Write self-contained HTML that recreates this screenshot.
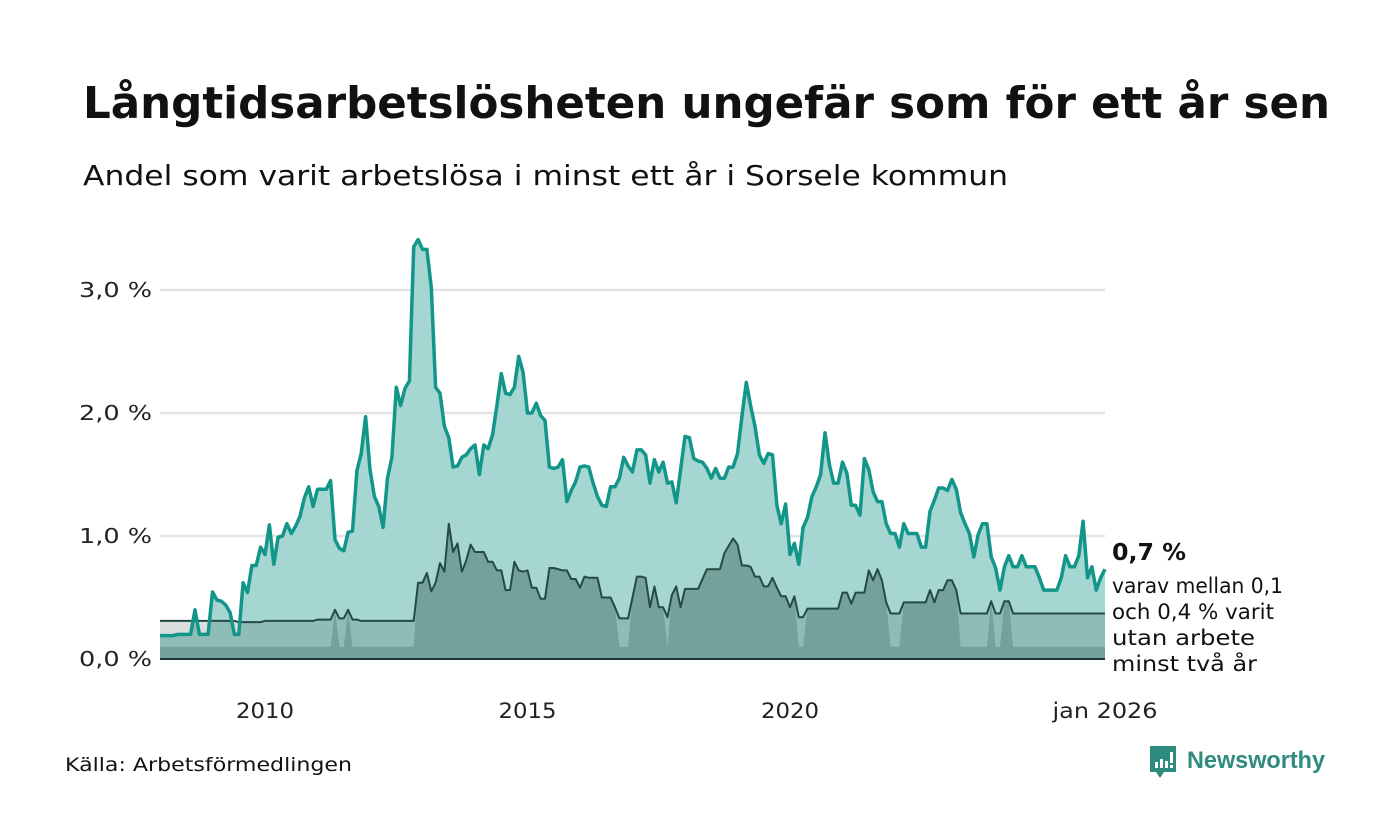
<!DOCTYPE html>
<html><head><meta charset="utf-8">
<style>
html,body{margin:0;padding:0;background:#fff;}
svg{display:block;font-family:"DejaVu Sans","Liberation Sans",sans-serif;}
</style></head>
<body>
<svg id="chart" width="1400" height="840" viewBox="0 0 1400 840">
<text x="83" y="118" font-size="44" font-weight="bold" fill="#111" textLength="1247" lengthAdjust="spacingAndGlyphs">Långtidsarbetslösheten ungefär som för ett år sen</text>
<text x="83" y="185" font-size="28" fill="#111" textLength="925" lengthAdjust="spacingAndGlyphs">Andel som varit arbetslösa i minst ett år i Sorsele kommun</text>
<g id="grid"></g>
<g id="areas"></g>
<g id="yaxis"></g>
<g id="xaxis"></g>
<g>
<text x="1112" y="560" font-size="23" font-weight="bold" fill="#111" textLength="74" lengthAdjust="spacingAndGlyphs">0,7 %</text>
<text font-size="21" fill="#111">
<tspan x="1112" y="593" textLength="171" lengthAdjust="spacingAndGlyphs">varav mellan 0,1</tspan>
<tspan x="1112" y="619" textLength="162" lengthAdjust="spacingAndGlyphs">och 0,4 % varit</tspan>
<tspan x="1112" y="645" textLength="143" lengthAdjust="spacingAndGlyphs">utan arbete</tspan>
<tspan x="1112" y="671" textLength="145" lengthAdjust="spacingAndGlyphs">minst två år</tspan>
</text>
</g>
<text x="65" y="771" font-size="19" fill="#111" textLength="287" lengthAdjust="spacingAndGlyphs">Källa: Arbetsförmedlingen</text>
<g>
<path d="M1150 746 h26 v26 h-12 l-4 6 l-4 -6 h-6 z" fill="#2e8b7e"/>
<rect x="1155" y="762" width="3" height="6" fill="#fff"/>
<rect x="1160" y="759" width="3" height="9" fill="#fff"/>
<rect x="1165" y="761" width="3" height="7" fill="#fff"/>
<rect x="1170" y="752" width="3" height="11" fill="#fff"/>
<rect x="1170" y="765" width="3" height="3" fill="#fff"/>
<text x="1187" y="768" font-size="24" font-weight="bold" fill="#2e8b7e" textLength="138" lengthAdjust="spacingAndGlyphs" font-family="Liberation Sans, sans-serif">Newsworthy</text>
</g>
</svg>
<script>
const startYear = 2008;
const mainValues = [
0.19,0.19,0.19,0.19,0.2,0.2,0.2,0.2,0.40,0.2,
0.2,0.2,0.545,0.48,0.47,0.44,0.38,0.2,0.2,0.62,
0.54,0.76,0.76,0.91,0.85,1.09,0.77,0.99,1.0,1.1,
1.02,1.08,1.16,1.31,1.40,1.24,1.38,1.38,1.38,1.45,
0.97,0.90,0.88,1.03,1.04,1.53,1.67,1.97,1.54,1.32,
1.24,1.07,1.47,1.64,2.21,2.06,2.2,2.26,3.35,3.41,
3.33,3.33,3.02,2.21,2.16,1.89,1.80,1.56,1.57,1.64,
1.66,1.71,1.74,1.50,1.74,1.71,1.82,2.06,2.32,2.16,
2.15,2.21,2.46,2.33,2.0,2.0,2.08,1.98,1.94,1.56,
1.55,1.56,1.62,1.28,1.37,1.44,1.56,1.57,1.56,1.43,
1.32,1.25,1.24,1.40,1.40,1.47,1.64,1.57,1.52,1.70,
1.70,1.66,1.43,1.62,1.52,1.60,1.43,1.44,1.27,1.54,
1.81,1.80,1.63,1.61,1.60,1.55,1.47,1.55,1.47,1.47,
1.56,1.56,1.67,1.97,2.25,2.06,1.89,1.66,1.59,1.67,
1.66,1.25,1.10,1.26,0.85,0.94,0.77,1.07,1.15,1.32,
1.40,1.50,1.84,1.58,1.43,1.43,1.60,1.51,1.25,1.25,
1.17,1.63,1.54,1.36,1.28,1.28,1.10,1.02,1.02,0.91,
1.10,1.02,1.02,1.02,0.91,0.91,1.20,1.29,1.39,1.39,
1.37,1.46,1.38,1.19,1.10,1.02,0.83,1.01,1.10,1.10,
0.83,0.74,0.56,0.75,0.84,0.75,0.75,0.84,0.75,0.75,
0.75,0.66,0.56,0.56,0.56,0.56,0.66,0.84,0.75,0.75,
0.84,1.12,0.66,0.75,0.56,0.66,0.73];
const upperValues = [
0.31,0.31,0.31,0.31,0.31,0.31,0.31,0.31,0.31,0.31,
0.31,0.31,0.31,0.31,0.31,0.31,0.31,0.31,0.30,0.30,
0.30,0.30,0.30,0.30,0.31,0.31,0.31,0.31,0.31,0.31,
0.31,0.31,0.31,0.31,0.31,0.31,0.32,0.32,0.32,0.32,
0.40,0.33,0.33,0.40,0.32,0.32,0.31,0.31,0.31,0.31,
0.31,0.31,0.31,0.31,0.31,0.31,0.31,0.31,0.31,0.62,
0.62,0.70,0.55,0.62,0.78,0.71,1.10,0.87,0.94,0.71,
0.80,0.93,0.87,0.87,0.87,0.79,0.79,0.72,0.72,0.56,
0.56,0.79,0.72,0.71,0.72,0.58,0.58,0.49,0.49,0.74,
0.74,0.73,0.72,0.72,0.65,0.65,0.58,0.67,0.66,0.66,
0.66,0.50,0.50,0.50,0.42,0.33,0.33,0.33,0.50,0.67,
0.67,0.66,0.42,0.59,0.42,0.42,0.34,0.52,0.59,0.42,
0.57,0.57,0.57,0.57,0.65,0.73,0.73,0.73,0.73,0.86,
0.92,0.98,0.93,0.76,0.76,0.75,0.67,0.67,0.59,0.59,
0.66,0.58,0.51,0.51,0.42,0.51,0.34,0.34,0.41,0.41,
0.41,0.41,0.41,0.41,0.41,0.41,0.54,0.54,0.45,0.54,
0.54,0.54,0.72,0.64,0.73,0.64,0.46,0.37,0.37,0.37,
0.46,0.46,0.46,0.46,0.46,0.46,0.56,0.46,0.56,0.56,
0.64,0.64,0.56,0.37,0.37,0.37,0.37,0.37,0.37,0.37,
0.47,0.37,0.37,0.47,0.47,0.37,0.37,0.37,0.37,0.37,
0.37,0.37,0.37,0.37,0.37,0.37,0.37,0.37,0.37,0.37,
0.37,0.37,0.37,0.37,0.37,0.37,0.37];
const lowerValues = [
0.1,0.1,0.1,0.1,0.1,0.1,0.1,0.1,0.1,0.1,
0.1,0.1,0.1,0.1,0.1,0.1,0.1,0.1,0.1,0.1,
0.1,0.1,0.1,0.1,0.1,0.1,0.1,0.1,0.1,0.1,
0.1,0.1,0.1,0.1,0.1,0.1,0.1,0.1,0.1,0.1,
0.40,0.1,0.1,0.40,0.1,0.1,0.1,0.1,0.1,0.1,
0.1,0.1,0.1,0.1,0.1,0.1,0.1,0.1,0.1,0.62,
0.62,0.70,0.55,0.62,0.78,0.71,1.10,0.87,0.94,0.71,
0.80,0.93,0.87,0.87,0.87,0.79,0.79,0.72,0.72,0.56,
0.56,0.79,0.72,0.71,0.72,0.58,0.58,0.49,0.49,0.74,
0.74,0.73,0.72,0.72,0.65,0.65,0.58,0.67,0.66,0.66,
0.66,0.50,0.50,0.50,0.42,0.1,0.1,0.1,0.50,0.67,
0.67,0.66,0.42,0.59,0.42,0.42,0.1,0.52,0.59,0.42,
0.57,0.57,0.57,0.57,0.65,0.73,0.73,0.73,0.73,0.86,
0.92,0.98,0.93,0.76,0.76,0.75,0.67,0.67,0.59,0.59,
0.66,0.58,0.51,0.51,0.42,0.51,0.1,0.1,0.41,0.41,
0.41,0.41,0.41,0.41,0.41,0.41,0.54,0.54,0.45,0.54,
0.54,0.54,0.72,0.64,0.73,0.64,0.46,0.1,0.1,0.1,
0.46,0.46,0.46,0.46,0.46,0.46,0.56,0.46,0.56,0.56,
0.64,0.64,0.56,0.1,0.1,0.1,0.1,0.1,0.1,0.1,
0.47,0.1,0.1,0.47,0.47,0.1,0.1,0.1,0.1,0.1,
0.1,0.1,0.1,0.1,0.1,0.1,0.1,0.1,0.1,0.1,
0.1,0.1,0.1,0.1,0.1,0.1,0.1];
const yTicks = [0, 1, 2, 3];
const yTickLabels = ["0,0 %", "1,0 %", "2,0 %", "3,0 %"];
const xTicks = [2010, 2015, 2020, 2026];
const xTickLabels = ["2010", "2015", "2020", "jan 2026"];

const NS = "http://www.w3.org/2000/svg";
const X0 = 160, X1 = 1105, Y0 = 659, YPER = 123;
function xScale(year){ return X0 + (year - startYear) * (X1 - X0) / 18; }
function xIdx(i){ return xScale(startYear + i / 12); }
function yScale(v){ return Y0 - v * YPER; }
function mk(tag, attrs, parent){ const e = document.createElementNS(NS, tag); for (const k in attrs) e.setAttribute(k, attrs[k]); parent.appendChild(e); return e; }
function linePts(arr){ return arr.map((v,i)=>xIdx(i).toFixed(1)+","+yScale(v).toFixed(1)).join(" "); }
function areaPts(arr){ return xIdx(0)+","+Y0+" "+linePts(arr)+" "+xIdx(arr.length-1)+","+Y0; }

const grid = document.getElementById("grid");
const yaxis = document.getElementById("yaxis");
yTicks.forEach((t,i)=>{
  if (t > 0) {
    const g = mk("line",{x1:X0,x2:X1,y1:yScale(t),y2:yScale(t),stroke:"#e2e2e6","stroke-width":2.5},grid);
    
    
  }
  const lb = mk("text",{x:152,y:yScale(t)+7,"font-size":20,fill:"#222","text-anchor":"end",textLength:73,lengthAdjust:"spacingAndGlyphs"},yaxis);
  lb.textContent = yTickLabels[i];
  
  
});
const xaxis = document.getElementById("xaxis");
xTicks.forEach((t,i)=>{
  const lb = mk("text",{x:xScale(t),y:718,"font-size":21,fill:"#222","text-anchor":"middle",textLength:xTickLabels[i].length>4?105:58,lengthAdjust:"spacingAndGlyphs"},xaxis);
  lb.textContent = xTickLabels[i];
  
  
});

const areas = document.getElementById("areas");
const a1 = mk("polygon",{points:areaPts(mainValues),fill:"#a5d6d1"},areas);


const a2 = mk("polygon",{points:areaPts(upperValues),fill:"rgb(30,64,59)","fill-opacity":0.17},areas);


const a3 = mk("polygon",{points:areaPts(lowerValues),fill:"rgb(13,54,39)","fill-opacity":0.2},areas);


const l2 = mk("polyline",{points:linePts(upperValues),fill:"none",stroke:"#254a43","stroke-width":2,"stroke-linejoin":"round"},areas);


const l1 = mk("polyline",{points:linePts(mainValues),fill:"none",stroke:"#13968a","stroke-width":3.5,"stroke-linejoin":"round"},areas);


const base = mk("line",{x1:X0,x2:X1,y1:Y0,y2:Y0,stroke:"#1f3a36","stroke-width":2},areas);


</script>
</body></html>
